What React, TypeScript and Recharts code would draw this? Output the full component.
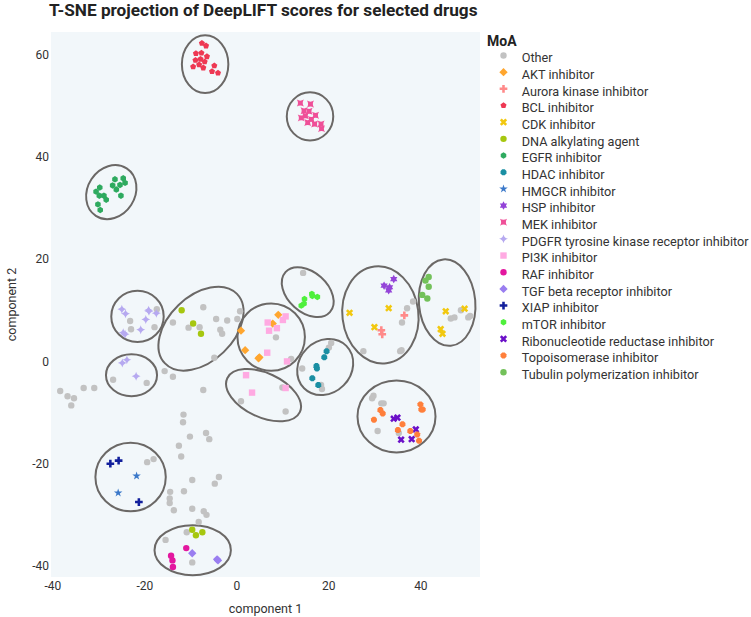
import { ScatterChart, Scatter, XAxis, YAxis, CartesianGrid, ReferenceArea, Legend, Label } from 'recharts';

// t-SNE coordinates, one list per MoA
const OTHER: [number, number][] = [
  [-17.4, 10.2], [-23.2, 7.9], [-23.0, 6.3], [-17.9, 6.7], [-13.9, 7.6], [-7.3, 10.6], [-10.5, 6.6],
  [-8.1, 6.7], [-4.5, 8.3], [-2.1, 8.0], [0.1, 8.3], [0.7, 9.8], [-3.6, 6.2], [-3.2, 5.4], [-4.9, 0.7],
  [-15.7, -1.9], [-13.9, -3.0], [-26.9, -3.6], [-19.6, -4.2], [-38.4, -5.8], [-36.8, -6.8], [-35.4, -7.2],
  [-36.0, -8.6], [-33.3, -5.2], [-31.0, -5.2], [-7.3, -5.6], [-11.6, -10.4], [0.9, -7.8],
  [14.4, 17.3], [8.5, 4.7], [11.8, 0.5], [14.2, -1.4], [20.5, 3.6], [20.0, 2.7], [18.3, -4.6], [18.5, -5.4],
  [9.9, -5.1], [10.6, -9.8], [38.3, 11.7], [37.0, 10.4], [35.9, 7.6], [27.5, 2.0], [35.5, 2.0], [35.8, 2.2],
  [46.5, 8.4], [47.3, 8.6], [48.7, 10.0], [50.3, 8.6], [50.7, 8.9], [29.4, -7.2], [29.7, -6.7], [31.4, -8.2],
  [31.9, -8.2], [30.6, -13.6], [35.2, -14.0],
  [-11.7, -11.9], [-10.2, -14.7], [-6.7, -14.0], [-6.0, -15.2], [-12.6, -16.5], [-12.1, -18.6], [-18.1, -19.1],
  [-19.5, -19.7], [-9.7, -23.2], [-3.9, -22.6], [-4.8, -23.9], [-14.5, -25.5], [-11.5, -25.4], [-14.6, -26.8],
  [-14.6, -27.7], [-13.7, -29.1], [-9.7, -28.8], [-7.2, -29.3], [-6.6, -30.0], [-8.3, -31.4], [-10.9, -33.4],
  [-15.5, -34.9], [-9.7, -39.3],
];
const AKT: [number, number][] = [[0.9, 6.0], [1.8, 2.2], [4.7, 0.6], [4.9, 0.8], [9.0, 9.1], [7.8, 7.4]];
const AURORA: [number, number][] = [[36.4, 9.0], [31.4, 6.1], [31.6, 5.3]];
const BCL: [number, number][] = [
  [-7.6, 62.2], [-6.7, 61.7], [-8.9, 60.2], [-7.7, 60.3], [-6.5, 59.6], [-9.0, 58.9], [-7.9, 59.1],
  [-7.0, 58.6], [-8.2, 58.0], [-9.5, 57.6], [-7.3, 57.4], [-4.9, 57.8], [-5.4, 56.7], [-4.1, 56.4],
];
const CDK: [number, number][] = [[24.5, 9.5], [33.0, 10.4], [29.9, 6.7], [45.4, 9.8], [49.5, 10.3], [44.3, 6.3], [44.7, 5.4]];
const DNA: [number, number][] = [[-12.0, 10.0], [-9.5, 7.4], [-7.8, 5.4], [-9.7, -32.9], [-8.9, -34.0], [-7.5, -33.4]];
const EGFR: [number, number][] = [
  [-26.5, 35.6], [-24.7, 35.8], [-29.8, 34.0], [-30.6, 33.2], [-27.0, 34.4], [-24.3, 34.9], [-25.4, 34.5],
  [-26.2, 33.6], [-29.9, 32.4], [-28.9, 32.4], [-28.4, 31.6], [-25.2, 32.4], [-30.2, 30.7], [-29.7, 29.6],
];
const HDAC: [number, number][] = [[19.5, 2.0], [19.0, 0.8], [17.3, -0.9], [17.4, -1.4], [16.4, -3.3], [17.7, -4.6]];
const HMGCR: [number, number][] = [[-21.8, -22.4], [-25.8, -25.7]];
const HSP: [number, number][] = [[34.1, 16.1], [32.0, 14.8], [33.2, 14.5], [33.0, 13.9]];
const MEK: [number, number][] = [
  [13.8, 50.5], [16.0, 50.3], [14.6, 49.0], [15.7, 48.9], [14.9, 48.0], [17.1, 48.1],
  [14.0, 47.6], [16.2, 47.3], [15.4, 46.7], [16.9, 46.4], [18.3, 46.4], [18.4, 45.5],
];
const PDGFR: [number, number][] = [
  [-25.0, 10.2], [-24.2, 9.3], [-19.2, 10.0], [-19.1, 9.8], [-17.5, 9.4], [-19.8, 8.2],
  [-20.9, 6.2], [-24.7, 5.6], [-24.3, 5.3], [-24.9, -0.3], [-23.9, 0.3], [-21.9, -2.9],
];
const PI3K: [number, number][] = [
  [6.7, 7.6], [10.0, 8.1], [10.6, 8.8], [8.7, 6.5], [7.0, 6.0], [6.6, 1.7], [10.9, 0.0], [2.0, -2.7], [3.3, -6.1], [10.6, -5.2],
];
const RAF: [number, number][] = [[-11.0, -36.5], [-14.3, -38.0], [-14.0, -38.9], [-13.9, -40.2]];
const TGF: [number, number][] = [[-9.7, -37.5], [-4.3, -38.7], [-4.1, -38.9]];
const XIAP: [number, number][] = [[-27.5, -20.0], [-25.7, -19.4], [-21.3, -27.5]];
const MTOR: [number, number][] = [[14.7, 12.2], [14.6, 11.3], [14.0, 10.9], [16.3, 13.2], [16.4, 12.8], [17.5, 12.6]];
const RNR: [number, number][] = [[34.1, -11.2], [34.9, -11.0], [38.9, -13.3], [35.7, -15.3], [38.0, -15.2]];
const TOPO: [number, number][] = [
  [39.9, -8.4], [40.1, -9.4], [40.4, -9.4], [31.2, -9.5], [31.7, -10.2], [29.8, -11.4],
  [36.0, -12.3], [35.0, -13.4], [37.7, -13.6], [39.2, -14.3], [39.6, -15.5],
];
const TUBULIN: [number, number][] = [[41.7, 16.5], [41.0, 15.8], [41.7, 14.6], [40.3, 13.0], [41.4, 12.3]];

// cluster outlines: centre x, centre y, half-width (x units), half-height (y units), rotation in degrees
const ELLIPSES: [number, number, number, number, number][] = [
  [-6.9, 58.1, 5.05, 5.65, 0],
  [15.9, 47.9, 5.05, 4.7, 0],
  [-27.3, 33.1, 5.15, 5.53, 33],
  [-21.6, 8.8, 5.7, 5.0, 0],
  [-22.9, -2.7, 5.55, 4.1, 0],
  [-7.8, 6.4, 10.87, 6.37, -44],
  [15.4, 13.55, 6.5, 3.9, 42],
  [7.46, 4.75, 7.33, 6.59, 0],
  [19.2, -1.1, 6.5, 5.08, -45],
  [5.8, -6.6, 8.7, 4.3, 25],
  [31.2, 9.1, 8.26, 9.52, -7],
  [45.7, 11.5, 6.13, 8.47, -5],
  [34.7, -10.75, 8.48, 7.04, 0],
  [-23.1, -22.6, 7.65, 6.71, 0],
  [-9.6, -36.9, 8.3, 4.89, 0],
];

type Sym = 'circle' | 'diamond' | 'cross' | 'x' | 'pentagon' | 'hexagon' | 'octagon' | 'star' | 'hexagram' | 'star-square' | 'star-diamond' | 'square';

const GROUPS: { name: string; color: string; symbol: Sym; points: [number, number][] }[] = [
  { name: 'Other', color: '#c2c2c2', symbol: 'circle', points: OTHER },
  { name: 'AKT inhibitor', color: '#ffa62f', symbol: 'diamond', points: AKT },
  { name: 'Aurora kinase inhibitor', color: '#ff8a8a', symbol: 'cross', points: AURORA },
  { name: 'BCL inhibitor', color: '#ee3853', symbol: 'pentagon', points: BCL },
  { name: 'CDK inhibitor', color: '#f2c80f', symbol: 'x', points: CDK },
  { name: 'DNA alkylating agent', color: '#a6c70f', symbol: 'circle', points: DNA },
  { name: 'EGFR inhibitor', color: '#2eaa5f', symbol: 'hexagon', points: EGFR },
  { name: 'HDAC inhibitor', color: '#1a8fa3', symbol: 'octagon', points: HDAC },
  { name: 'HMGCR inhibitor', color: '#3a78c9', symbol: 'star', points: HMGCR },
  { name: 'HSP inhibitor', color: '#9444d8', symbol: 'hexagram', points: HSP },
  { name: 'MEK inhibitor', color: '#ef4f98', symbol: 'star-square', points: MEK },
  { name: 'PDGFR tyrosine kinase receptor inhibitor', color: '#b6a9f0', symbol: 'star-diamond', points: PDGFR },
  { name: 'PI3K inhibitor', color: '#ffaae2', symbol: 'square', points: PI3K },
  { name: 'RAF inhibitor', color: '#e3179f', symbol: 'circle', points: RAF },
  { name: 'TGF beta receptor inhibitor', color: '#9a7ef0', symbol: 'diamond', points: TGF },
  { name: 'XIAP inhibitor', color: '#121f9c', symbol: 'cross', points: XIAP },
  { name: 'mTOR inhibitor', color: '#4ff03c', symbol: 'hexagon', points: MTOR },
  { name: 'Ribonucleotide reductase inhibitor', color: '#6b10c8', symbol: 'x', points: RNR },
  { name: 'Topoisomerase inhibitor', color: '#ff7f3b', symbol: 'octagon', points: TOPO },
  { name: 'Tubulin polymerization inhibitor', color: '#73c15a', symbol: 'circle', points: TUBULIN },
];

const X_TICKS = [-40, -20, 0, 20, 40];
const Y_TICKS = [-40, -20, 0, 20, 40, 60];
const FONT = 'Roboto, sans-serif';

const f = (n: number) => Math.round(n * 100) / 100;

// same outlines plotly uses for its marker symbols
function symbolPath(sym: Sym, r: number): string {
  switch (sym) {
    case 'diamond': {
      const d = f(r * 1.3);
      return `M${d},0L0,${d}L-${d},0L0,-${d}Z`;
    }
    case 'square':
      return `M${r},${r}H-${r}V-${r}H${r}Z`;
    case 'cross': {
      const a = f(r * 0.4), b = f(r * 1.2);
      return `M${b},${a}H${a}V${b}H-${a}V${a}H-${b}V-${a}H-${a}V-${b}H${a}V-${a}H${b}Z`;
    }
    case 'x': {
      const a = f((r * 0.8) / Math.SQRT2);
      const ne = `l${a},${a}`, se = `l${a},-${a}`, sw = `l-${a},-${a}`, nw = `l-${a},${a}`;
      return `M0,${a}${ne}${se}${sw}${se}${sw}${nw}${sw}${nw}${ne}${nw}${ne}Z`;
    }
    case 'pentagon': {
      const x1 = f(r * 0.951), x2 = f(r * 0.588), y1 = f(r * -0.309), y2 = f(r * 0.809);
      return `M${x1},${y1}L${x2},${y2}H-${x2}L-${x1},${y1}L0,-${r}Z`;
    }
    case 'hexagon': {
      const y1 = f(r / 2), y2 = f((r * Math.sqrt(3)) / 2);
      return `M${y2},-${y1}V${y1}L0,${r}L-${y2},${y1}V-${y1}L0,-${r}Z`;
    }
    case 'octagon': {
      const a = f(r * 0.924), b = f(r * 0.383);
      return `M-${b},-${a}H${b}L${a},-${b}V${b}L${b},${a}H-${b}L-${a},${b}V-${b}Z`;
    }
    case 'star': {
      const rs = r * 1.4;
      const x1 = f(rs * 0.225), x2 = f(rs * 0.951), x3 = f(rs * 0.363), x4 = f(rs * 0.588);
      const y0 = f(-rs), y1 = f(rs * -0.309), y3 = f(rs * 0.118), y4 = f(rs * 0.809), y2 = f(rs * 0.382);
      return `M${x1},${y1}H${x2}L${x3},${y3}L${x4},${y4}L0,${y2}L-${x4},${y4}L-${x3},${y3}L-${x2},${y1}H-${x1}L0,${y0}Z`;
    }
    case 'hexagram': {
      const y = f(r * 0.66), x1 = f(r * 0.38), x2 = f(r * 0.76);
      return `M-${x2},0l-${x1},-${y}h${x2}l${x1},-${y}l${x1},${y}h${x2}l-${x1},${y}l${x1},${y}h-${x2}l-${x1},${y}l-${x1},-${y}h-${x2}Z`;
    }
    case 'star-square': {
      const p = f(r * 1.1), c = f(r * 2);
      const arc = `A ${c},${c} 0 0 1 `;
      return `M-${p},-${p}${arc}-${p},${p}${arc}${p},${p}${arc}${p},-${p}${arc}-${p},-${p}Z`;
    }
    case 'star-diamond': {
      const p = f(r * 1.4), c = f(r * 1.9);
      const arc = `A ${c},${c} 0 0 1 `;
      return `M-${p},0${arc}0,${p}${arc}${p},0${arc}0,-${p}${arc}-${p},0Z`;
    }
    default:
      return '';
  }
}

function Marker({ symbol, color, cx, cy, r = 3.2 }: { symbol: Sym; color: string; cx: number; cy: number; r?: number }) {
  if (symbol === 'circle') return <circle cx={cx} cy={cy} r={r} fill={color} />;
  return <path d={symbolPath(symbol, r)} transform={`translate(${cx},${cy})`} fill={color} />;
}

function EllipseShape(angle: number) {
  return (p: any) => {
    const cx = p.x + p.width / 2;
    const cy = p.y + p.height / 2;
    return (
      <ellipse
        cx={cx}
        cy={cy}
        rx={Math.abs(p.width) / 2}
        ry={Math.abs(p.height) / 2}
        transform={`rotate(${angle} ${cx} ${cy})`}
        fill="none"
        stroke="#6b6866"
        strokeWidth={2}
      />
    );
  };
}

function MoaLegend() {
  return (
    <svg width={271} height={370} style={{ fontFamily: FONT }}>
      <text x={7} y={26} fontSize={14} fontWeight={700} fill="#222">MoA</text>
      {GROUPS.map((g, i) => (
        <g key={g.name}>
          <Marker symbol={g.symbol} color={g.color} cx={23.5} cy={35.5 + 16.67 * i} />
          <text x={41.7} y={42.3 + 16.67 * i} fontSize={12.7} fill="#333">{g.name}</text>
        </g>
      ))}
    </svg>
  );
}

export default function App() {
  const tick = { fontSize: 12, fill: '#333', fontFamily: FONT };
  return (
    <div style={{ position: 'absolute', left: 0, top: 0, width: 751, height: 617, background: '#fff', fontFamily: FONT }}>
      <ScatterChart width={751} height={617} margin={{ top: 32, right: 271, bottom: 0, left: 11 }}>
        <CartesianGrid horizontal={false} vertical={false} fill="#f2f7fa" stroke="none" />
        <XAxis
          type="number"
          dataKey="x"
          domain={[-40.4, 52.85]}
          ticks={X_TICKS}
          interval={0}
          allowDataOverflow
          axisLine={false}
          tickLine={false}
          tickSize={0}
          tickMargin={4}
          height={40}
          tick={tick}
        >
          <Label value="component 1" position="insideBottom" offset={4} style={{ fontSize: 12.5, fill: '#333', fontFamily: FONT }} />
        </XAxis>
        <YAxis
          type="number"
          dataKey="y"
          domain={[-42.15, 64.4]}
          ticks={Y_TICKS}
          interval={0}
          allowDataOverflow
          axisLine={false}
          tickLine={false}
          tickSize={0}
          tickMargin={2}
          width={40}
          tick={tick}
        >
          <Label
            value="component 2"
            angle={-90}
            position="insideLeft"
            offset={1}
            style={{ fontSize: 12.5, fill: '#333', fontFamily: FONT, textAnchor: 'middle' }}
          />
        </YAxis>
        {GROUPS.map((g) => (
          <Scatter
            key={g.name}
            name={g.name}
            data={g.points.map(([x, y]) => ({ x, y }))}
            fill={g.color}
            isAnimationActive={false}
            shape={(p: any) => <Marker symbol={g.symbol} color={g.color} cx={p.cx} cy={p.cy} />}
          />
        ))}
        {ELLIPSES.map(([cx, cy, rx, ry, angle], i) => (
          <ReferenceArea
            key={i}
            x1={cx - rx}
            x2={cx + rx}
            y1={cy - ry}
            y2={cy + ry}
            ifOverflow="visible"
            shape={EllipseShape(angle)}
          />
        ))}
        <Legend
          layout="vertical"
          align="center"
          verticalAlign="middle"
          wrapperStyle={{ left: 480, top: 20, width: 271, height: 370 }}
          content={() => <MoaLegend />}
        />
      </ScatterChart>
      <div
        style={{
          position: 'absolute',
          left: 49,
          top: 0,
          fontSize: 17.2,
          fontWeight: 700,
          lineHeight: '20px',
          color: '#222',
          whiteSpace: 'nowrap',
        }}
      >
        T-SNE projection of DeepLIFT scores for selected drugs
      </div>
    </div>
  );
}
